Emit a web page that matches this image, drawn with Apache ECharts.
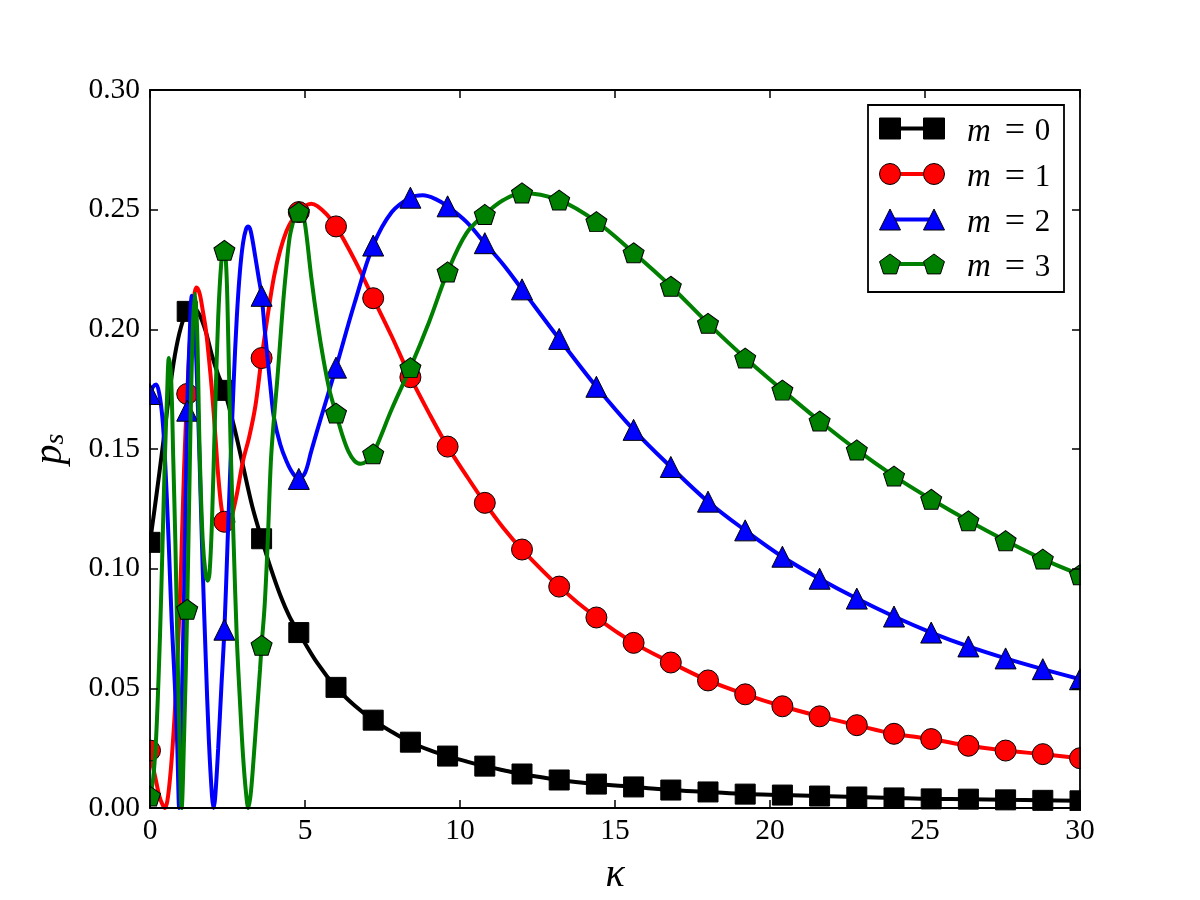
<!DOCTYPE html>
<html>
<head>
<meta charset="utf-8">
<script src="https://cdn.jsdelivr.net/npm/echarts@6/dist/echarts.min.js"></script>
<style>
html, body { margin: 0; padding: 0; background: #fff; }
#chart { width: 1200px; height: 900px; }
</style>
</head>
<body>
<div id="chart"></div>
<script>
// marker positions (every 1.2 in kappa)
var kappaMarks = [0, 1.2, 2.4, 3.6, 4.8, 6.0, 7.2, 8.4, 9.6, 10.8, 12.0, 13.2, 14.4, 15.6, 16.8,
	18.0, 19.2, 20.4, 21.6, 22.8, 24.0, 25.2, 26.4, 27.6, 28.8, 30.0];
var m0Marks = [0.111, 0.2075, 0.1745, 0.1125, 0.0733, 0.0504, 0.0367, 0.0275, 0.0217, 0.0175, 0.0142,
	0.0117, 0.0100, 0.0088, 0.0075, 0.0067, 0.0058, 0.0054, 0.0050, 0.0046, 0.0042, 0.0038, 0.0037,
	0.0034, 0.0032, 0.0030];
var m1Marks = [0.024, 0.173, 0.1196, 0.188, 0.249, 0.243, 0.213, 0.180, 0.151, 0.1275, 0.108, 0.0925,
	0.0796, 0.069, 0.0608, 0.0533, 0.0475, 0.0425, 0.0383, 0.0346, 0.031, 0.0288, 0.026, 0.024,
	0.0225, 0.0208];
var m2Marks = [0.173, 0.166, 0.0745, 0.214, 0.1375, 0.184, 0.235, 0.255, 0.2514, 0.236, 0.2167, 0.196,
	0.176, 0.158, 0.1425, 0.128, 0.116, 0.105, 0.0958, 0.0875, 0.080, 0.0733, 0.0675, 0.0625,
	0.058, 0.0538];
var m3Marks = [0.005, 0.083, 0.233, 0.068, 0.249, 0.165, 0.148, 0.184, 0.224, 0.248, 0.257, 0.254,
	0.245, 0.232, 0.218, 0.2025, 0.188, 0.1746, 0.1617, 0.1496, 0.1387, 0.129, 0.120, 0.1117,
	0.104, 0.0975];

var m0Kappa = [0, 0.2, 0.4, 0.6, 0.8, 1.0, 1.2, 1.4, 1.6, 1.8, 2.0, 2.2, 2.4, 2.7, 3.0, 3.3, 3.6, 3.9,
	4.2, 4.5, 4.8, 5.4, 6.0, 6.6, 7.2, 7.8, 8.4, 9.0, 9.6, 10.2, 10.8, 11.4, 12.0];
var m0Curve = [0.111, 0.130, 0.150, 0.171, 0.189, 0.201, 0.2075, 0.209, 0.206, 0.199, 0.189, 0.181,
	0.1745, 0.160, 0.143, 0.126, 0.1125, 0.100, 0.089, 0.080, 0.0733, 0.0605, 0.0504, 0.0428,
	0.0367, 0.0318, 0.0275, 0.0243, 0.0217, 0.0195, 0.0175, 0.0158, 0.0142];

var m1Kappa = [0, 0.1, 0.2, 0.3, 0.4, 0.48, 0.56, 0.65, 0.72, 0.8, 0.9, 1.0, 1.1, 1.2, 1.3, 1.4, 1.5,
	1.6, 1.7, 1.8, 1.9, 2.0, 2.1, 2.2, 2.3, 2.4, 2.5, 2.6, 2.7, 2.8, 3.0, 3.2, 3.4, 3.6, 3.8, 4.0,
	4.2, 4.4, 4.6, 4.8, 5.0, 5.2, 5.4, 5.7, 6.0, 6.6, 7.2, 7.8, 8.4, 9.0, 9.6, 10.2, 10.8, 11.4, 12.0];
var m1Curve = [0.024, 0.017, 0.011, 0.005, 0.0015, 0.0, 0.003, 0.013, 0.024, 0.04, 0.066, 0.10, 0.142,
	0.173, 0.197, 0.211, 0.2175, 0.215, 0.208, 0.200, 0.188, 0.174, 0.157, 0.139, 0.126, 0.1196,
	0.118, 0.12, 0.125, 0.131, 0.145, 0.155, 0.168, 0.188, 0.206, 0.222, 0.233, 0.241, 0.246, 0.249,
	0.2515, 0.2525, 0.2515, 0.248, 0.243, 0.229, 0.213, 0.197, 0.180, 0.165, 0.151, 0.139, 0.1275,
	0.117, 0.108];

var m2Kappa = [0, 0.1, 0.2, 0.3, 0.4, 0.48, 0.6, 0.7, 0.8, 0.88, 0.94, 1.0, 1.1, 1.2, 1.28, 1.35, 1.42,
	1.5, 1.6, 1.7, 1.8, 1.9, 2.0, 2.05, 2.1, 2.2, 2.3, 2.4, 2.5, 2.6, 2.7, 2.8, 2.9, 3.0, 3.1, 3.17,
	3.25, 3.4, 3.5, 3.6, 3.7, 3.8, 3.9, 4.0, 4.2, 4.4, 4.6, 4.8, 5.0, 5.2, 5.4, 5.7, 6.0, 6.6, 7.2,
	7.8, 8.4, 8.8, 9.2, 9.6, 10.2, 10.8, 11.4, 12.0];
var m2Curve = [0.173, 0.176, 0.177, 0.173, 0.163, 0.147, 0.112, 0.078, 0.052, 0.026, 0.0, 0.03, 0.09,
	0.166, 0.197, 0.214, 0.207, 0.185, 0.145, 0.10, 0.062, 0.028, 0.005, 0.0, 0.004, 0.025, 0.05,
	0.0745, 0.11, 0.145, 0.178, 0.205, 0.224, 0.236, 0.242, 0.243, 0.241, 0.230, 0.222, 0.214, 0.200,
	0.187, 0.174, 0.163, 0.152, 0.145, 0.140, 0.1375, 0.140, 0.149, 0.158, 0.171, 0.184, 0.211,
	0.235, 0.249, 0.255, 0.256, 0.2545, 0.2514, 0.245, 0.236, 0.227, 0.2167];

var m3Kappa = [0, 0.1, 0.2, 0.32, 0.4, 0.48, 0.55, 0.61, 0.68, 0.75, 0.82, 0.88, 0.95, 1.02, 1.1, 1.2,
	1.3, 1.38, 1.45, 1.52, 1.6, 1.7, 1.8, 1.86, 1.92, 2.0, 2.1, 2.2, 2.3, 2.38, 2.45, 2.5, 2.6, 2.7,
	2.8, 2.9, 3.0, 3.1, 3.17, 3.25, 3.35, 3.45, 3.55, 3.6, 3.7, 3.8, 3.9, 4.0, 4.1, 4.2, 4.3, 4.4,
	4.5, 4.6, 4.7, 4.8, 4.9, 5.0, 5.2, 5.4, 5.6, 5.8, 6.0, 6.2, 6.4, 6.6, 6.8, 7.0, 7.2, 7.8, 8.4,
	9.0, 9.6, 10.2, 10.8, 11.4, 12.0];
var m3Curve = [0.005, 0.012, 0.03, 0.071, 0.108, 0.146, 0.172, 0.188, 0.18, 0.146, 0.11, 0.071, 0.03,
	0.0, 0.03, 0.083, 0.155, 0.2, 0.215, 0.2, 0.15, 0.112, 0.097, 0.095, 0.098, 0.12, 0.165, 0.205,
	0.228, 0.235, 0.228, 0.21, 0.152, 0.11, 0.071, 0.045, 0.022, 0.006, 0.0, 0.006, 0.022, 0.04,
	0.058, 0.068, 0.085, 0.112, 0.145, 0.163, 0.178, 0.195, 0.212, 0.226, 0.238, 0.244, 0.248,
	0.249, 0.248, 0.244, 0.222, 0.203, 0.187, 0.174, 0.165, 0.156, 0.149, 0.145, 0.1438, 0.145,
	0.148, 0.1667, 0.184, 0.203, 0.224, 0.240, 0.248, 0.254, 0.257];

var legendNames = ['0', '1', '2', '3'];

var serif = 'Liberation Serif';
var pentagonPath = 'path://M0,-1L0.951,-0.309L0.588,0.809L-0.588,0.809L-0.951,-0.309Z';

var curves = [
	{ color : '#000000', symbol : 'rect', size : 20, kappa : m0Kappa, curve : m0Curve, marks : m0Marks },
	{ color : '#ff0000', symbol : 'circle', size : 21, kappa : m1Kappa, curve : m1Curve, marks : m1Marks },
	{ color : '#0000ff', symbol : 'triangle', size : 21, kappa : m2Kappa, curve : m2Curve, marks : m2Marks },
	{ color : '#008000', symbol : pentagonPath, size : [21, 20], kappa : m3Kappa, curve : m3Curve, marks : m3Marks }
];

function pairs(ks, ps) {
	return ks.map(function(k, i) {
		return [ k, ps[i] ];
	});
}

var series = [];
curves.forEach(function(c, m) {
	var tailStart = kappaMarks.indexOf(13.2);
	series.push({
		type : 'line',
		name : 'm = ' + m,
		z : 1 + m,
		smooth : 0.35,
		showSymbol : false,
		clip : true,
		lineStyle : { color : c.color, width : 4 },
		data : pairs(c.kappa, c.curve).concat(pairs(kappaMarks.slice(tailStart), c.marks.slice(tailStart)))
	});
	series.push({
		type : 'scatter',
		name : 'm = ' + m,
		z : 1.5 + m,
		symbol : c.symbol,
		symbolSize : c.size,
		itemStyle : { color : c.color, borderColor : '#000', borderWidth : 1, opacity : 1 },
		data : pairs(kappaMarks, c.marks)
	});
});

function axisLook(showLabel) {
	return {
		z : 10,
		axisLine : { onZero : false, lineStyle : { color : '#000', width : 1.8 } },
		axisTick : { inside : true, length : 8, lineStyle : { color : '#000', width : 1.5 } },
		splitLine : { show : false },
		axisLabel : { show : showLabel, color : '#000', fontFamily : serif, fontSize : 29.5 }
	};
}

function withLook(base, showLabel) {
	var look = axisLook(showLabel);
	for (var k in look) base[k] = look[k];
	return base;
}

var xBottom = withLook({ type : 'value', min : 0, max : 30, interval : 5, position : 'bottom',
	name : 'κ', nameLocation : 'middle', nameGap : 47,
	nameTextStyle : { color : '#000', fontFamily : serif, fontStyle : 'italic', fontSize : 40 } }, true);
xBottom.axisLabel.margin = 8;
var xTop = withLook({ type : 'value', min : 0, max : 30, interval : 5, position : 'top' }, false);

var yLeft = withLook({ type : 'value', min : 0, max : 0.3, interval : 0.05, position : 'left',
	name : '{p|p}{s|s}', nameLocation : 'middle', nameRotate : 90, nameGap : 80,
	nameTextStyle : { color : '#000', rich : {
		p : { fontFamily : serif, fontStyle : 'italic', fontSize : 40, lineHeight : 40, color : '#000' },
		s : { fontFamily : serif, fontStyle : 'italic', fontSize : 28, lineHeight : 22, verticalAlign : 'bottom', color : '#000' }
	} } }, true);
yLeft.axisLabel.margin = 10;
yLeft.axisLabel.formatter = function(v) {
	return v.toFixed(2);
};
var yRight = withLook({ type : 'value', min : 0, max : 0.3, interval : 0.05, position : 'right' }, false);

// legend drawn as graphic, matplotlib style (two markers joined by a line)
var legendRowY = [128.5, 174, 219.5, 264];
function legendMarker(m, cx, cy) {
	var st = { fill : curves[m].color, stroke : '#000', lineWidth : 1 };
	if (m === 0) return { type : 'rect', z : 21, shape : { x : cx - 10.5, y : cy - 10.5, width : 21, height : 21 }, style : st };
	if (m === 1) return { type : 'circle', z : 21, shape : { cx : cx, cy : cy, r : 10.5 }, style : st };
	if (m === 2) return { type : 'polygon', z : 21, shape : { points : [ [ cx, cy - 10.5 ], [ cx + 10.5, cy + 10.5 ], [ cx - 10.5, cy + 10.5 ] ] }, style : st };
	var pts = [];
	for (var i = 0; i < 5; i++) {
		var a = -Math.PI / 2 + i * 2 * Math.PI / 5;
		pts.push([ cx + 11 * Math.cos(a), cy + 1 + 11 * Math.sin(a) ]);
	}
	return { type : 'polygon', z : 21, shape : { points : pts }, style : st };
}
function txt(text, x, y, italic, align, size) {
	return { type : 'text', z : 22, style : { text : text, x : x, y : y, fill : '#000',
		font : (italic ? 'italic ' : '') + size + 'px "' + serif + '"',
		align : align, textAlign : align, verticalAlign : 'middle', textVerticalAlign : 'middle' } };
}

var graphics = [
	// masks: matplotlib clips markers at the axes box
	{ type : 'rect', z : 5, shape : { x : 0, y : 0, width : 149, height : 900 }, style : { fill : '#fff' } },
	{ type : 'rect', z : 5, shape : { x : 1081, y : 0, width : 119, height : 900 }, style : { fill : '#fff' } },
	{ type : 'rect', z : 5, shape : { x : 0, y : 0, width : 1200, height : 89 }, style : { fill : '#fff' } },
	{ type : 'rect', z : 5, shape : { x : 0, y : 811, width : 1200, height : 89 }, style : { fill : '#fff' } },
	{ type : 'rect', z : 20, shape : { x : 868, y : 105, width : 196, height : 187 },
		style : { fill : '#fff', stroke : '#000', lineWidth : 1.8 } }
];
legendRowY.forEach(function(cy, m) {
	graphics.push({ type : 'line', z : 21, shape : { x1 : 890, y1 : cy, x2 : 934, y2 : cy },
		style : { stroke : curves[m].color, lineWidth : 4 } });
	graphics.push(legendMarker(m, 890, cy));
	graphics.push(legendMarker(m, 934, cy));
	graphics.push(txt('m', 967, cy + 3.5, true, 'left', 33));
	graphics.push(txt('=', 1015, cy + 3.5, false, 'center', 36));
	graphics.push(txt(legendNames[m], 1042.5, cy + 3.5, false, 'center', 31));
});

var chart = echarts.init(document.getElementById('chart'));
chart.setOption({
	animation : false,
	backgroundColor : '#ffffff',
	grid : { left : 150, right : 120, top : 90, bottom : 90 },
	xAxis : [ xBottom, xTop ],
	yAxis : [ yLeft, yRight ],
	graphic : { elements : graphics },
	series : series
});
</script>
</body>
</html>
